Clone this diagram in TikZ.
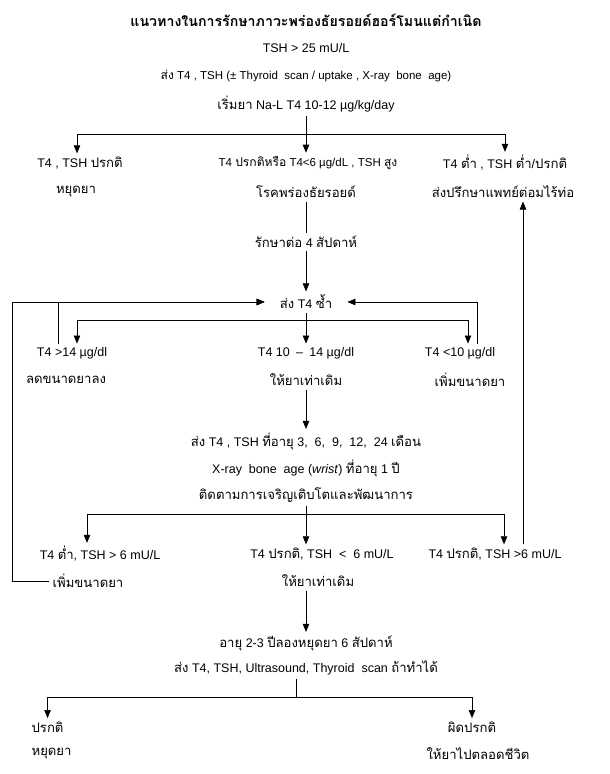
\documentclass[tikz,border=0pt]{standalone}
\usepackage{fontspec}
\setmainfont{Liberation Sans}
\newfontfamily\thaifont[Script=Thai, Scale=1.05]{Loma}
\newcommand{\tha}[1]{{\thaifont #1}}
\usepackage{tikz}
\usetikzlibrary{arrows.meta, calc}

\begin{document}
\begin{tikzpicture}[font = \fontsize{12.5}{14}\selectfont, x = 1pt, y = -1pt,
    >={Triangle[length = 8pt, width = 6.5pt]}, line width = 0.6pt,
    heading/.style = {font = \fontsize{13.5}{15}\selectfont\bfseries},
    smalltext/.style = {font = \fontsize{11.5}{13}\selectfont}]
    \useasboundingbox (0,0) rectangle (610,774);

    \node[heading] (title) at (306,20) {\tha{แนวทางในการรักษาภาวะพร่องธัยรอยด์ฮอร์โมนแต่กำเนิด}};
    \node (tsh) at (306,48) {TSH > 25 mU/L};
    \node[smalltext] (send) at (306,76) {\tha{ส่ง} T4 , TSH (± Thyroid\ \ scan / uptake , X-ray\ \ bone\ \ age)};
    \node (start) at (306,104) {\tha{เริ่มยา} Na-L T4 10-12 µg/kg/day};

    \node (nrm) at (80,163) {T4 , TSH \tha{ปรกติ}};
    \node (stop) at (76,192) {\tha{หยุดยา}};
    \node[smalltext] (hypo) at (308,163) {T4 \tha{ปรกติหรือ} T4<6 µg/dL , TSH \tha{สูง}};
    \node (disease) at (306,192) {\tha{โรคพร่องธัยรอยด์}};
    \node (low) at (505,163) {T4 \tha{ต่ำ} , TSH \tha{ต่ำ}/\tha{ปรกติ}};
    \node (refer) at (503,192) {\tha{ส่งปรึกษาแพทย์ต่อมไร้ท่อ}};

    \node (treat) at (306,242) {\tha{รักษาต่อ} 4 \tha{สัปดาห์}};
    \node[inner xsep = 15pt] (recheck) at (306,302) {\tha{ส่ง} T4 \tha{ซ้ำ}};

    \node (hi14) at (72,353) {T4 >14 µg/dl};
    \node (dec) at (66,380) {\tha{ลดขนาดยาลง}};
    \node (mid14) at (306,353) {T4 10\enspace--\enspace14 µg/dl};
    \node (same1) at (306,380) {\tha{ให้ยาเท่าเดิม}};
    \node (lo10) at (460,353) {T4 <10 µg/dl};
    \node (inc1) at (470,380) {\tha{เพิ่มขนาดยา}};

    \node (check) at (306,441) {\tha{ส่ง} T4 , TSH \tha{ที่อายุ} 3,\ \ 6,\ \ 9,\ \ 12,\ \ 24 \tha{เดือน}};
    \node (xray) at (306,468) {X-ray\ \ bone\ \ age (\textit{wrist}) \tha{ที่อายุ} 1 \tha{ปี}};
    \node (follow) at (306,495) {\tha{ติดตามการเจริญเติบโตและพัฒนาการ}};

    \node (lowhi) at (100,554) {T4 \tha{ต่ำ}, TSH > 6 mU/L};
    \node (inc2) at (88,581) {\tha{เพิ่มขนาดยา}};
    \node (nrmlo) at (322,554) {T4 \tha{ปรกติ}, TSH\ \ <\ \ 6 mU/L};
    \node (same2) at (318,581) {\tha{ให้ยาเท่าเดิม}};
    \node (nrmhi) at (495,554) {T4 \tha{ปรกติ}, TSH >6 mU/L};

    \node (age) at (306,643) {\tha{อายุ} 2-3 \tha{ปีลองหยุดยา} 6 \tha{สัปดาห์}};
    \node (tests) at (306,668) {\tha{ส่ง} T4, TSH, Ultrasound, Thyroid\ \ scan \tha{ถ้าทำได้}};

    \node[anchor = west] (normal) at (28,727) {\tha{ปรกติ}};
    \node[anchor = west] (stop2) at (28,754) {\tha{หยุดยา}};
    \node (abn) at (472,727) {\tha{ผิดปรกติ}};
    \node (life) at (478,754) {\tha{ให้ยาไปตลอดชีวิต}};

    \coordinate (j1) at (306,134);
    \coordinate (j2) at (306,320);
    \coordinate (j3) at (306,514);
    \coordinate (j4) at (296,697);
    \coordinate (loop) at (12,302);
    \coordinate (up) at ([xshift=28pt]nrmhi.north);

    \draw (start) -- (j1);
    \draw[->] (j1) -| ([xshift=-3pt]nrm.north);
    \draw[->] (j1) -- (j1 |- hypo.north);
    \draw[->] (j1) -| (low);

    \draw (disease) -- (treat);
    \draw[->] (treat) -- (recheck);

    \draw (recheck) -- (j2);
    \draw[->] (j2) -| ([xshift=5pt]hi14.north);
    \draw[->] (j2) -- (mid14);
    \draw[->] (j2) -| ([xshift=8pt]lo10.north);
    \draw[->] ([xshift=-14pt]hi14.north) |- (recheck);
    \draw[->] ([xshift=17pt]lo10.north) |- (recheck);
    \draw[->] (inc2.west) -| (loop) -- (recheck);

    \draw[->] (same1) -- (check);
    \draw (follow) -- (j3);
    \draw[->] (j3) -| ([xshift=-13pt]lowhi.north);
    \draw[->] (j3) -- (j3 |- nrmlo.north);
    \draw[->] (j3) -| ([xshift=9pt]nrmhi.north);
    \draw[->] (up) -- (up |- refer.south);

    \draw[->] (same2.south -| age) -- (age);
    \draw (tests.south -| j4) -- (j4);
    \draw[->] (j4) -| (normal.north);
    \draw[->] (j4) -| (abn);
\end{tikzpicture}
\end{document}
